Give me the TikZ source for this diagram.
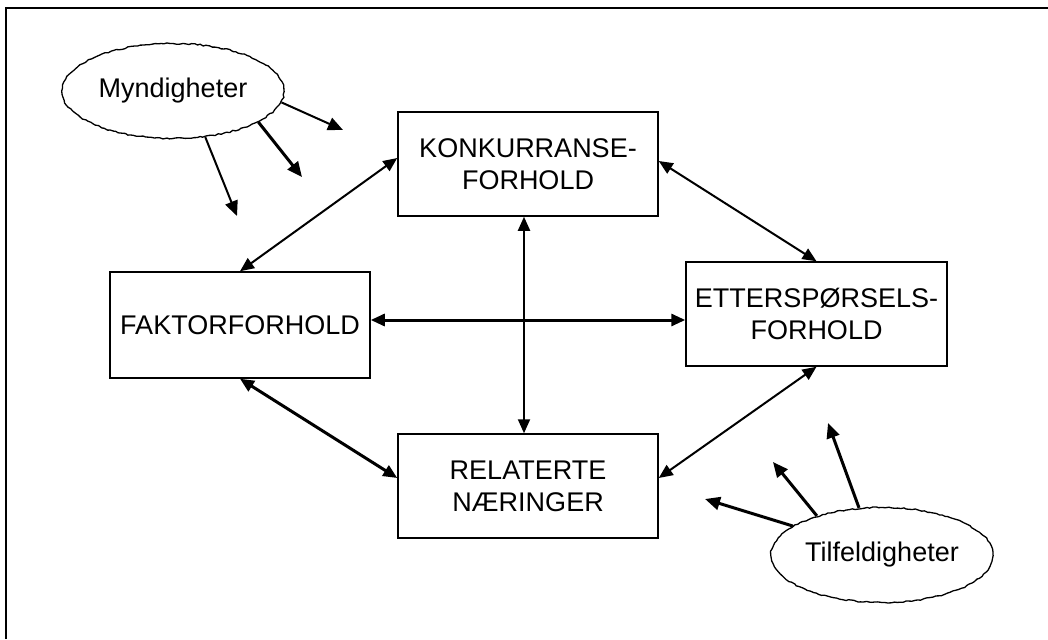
\documentclass[tikz,border=0pt]{standalone}
\usepackage{fontspec}
\setmainfont{Liberation Sans}
\usetikzlibrary{arrows.meta,shapes.geometric,decorations.pathmorphing}
\begin{document}
\begin{tikzpicture}[x=1pt,y=-1pt,
  box/.style={draw,line width=1.5pt,rectangle,inner sep=0pt,align=center,
    font=\fontsize{27}{32}\selectfont},
  cloud/.style={draw,line width=1.3pt,ellipse,inner sep=0pt,
    minimum width=222pt,minimum height=95pt,
    font=\fontsize{27}{32}\selectfont,
    decorate,decoration={random steps,segment length=3pt,amplitude=0.7pt}},
  link/.style={line width=2pt,{Triangle[length=14pt,width=12pt]}-{Triangle[length=14pt,width=12pt]}},
  linkthick/.style={line width=3pt,{Triangle[length=14pt,width=12pt]}-{Triangle[length=14pt,width=12pt]}},
  infl/.style={line width=2pt,-{Triangle[length=15pt,width=13pt]}},
  inflthick/.style={line width=3pt,-{Triangle[length=15pt,width=13pt]}}]
\pgfmathsetseed{7}
\useasboundingbox (0,0) rectangle (1048,639);
\draw[line width=1.5pt] (6,639) -- (6,8) -- (1048,8);

\node[box,minimum width=260pt,minimum height=104pt] (konk) at (528,164) {KONKURRANSE-\\FORHOLD};
\node[box,minimum width=260pt,minimum height=106pt] (fakt) at (240,325) {FAKTORFORHOLD};
\node[box,minimum width=261pt,minimum height=104pt] (ett) at (816.5,314) {ETTERSPØRSELS-\\FORHOLD};
\node[box,minimum width=260pt,minimum height=104pt] (rel) at (528,486) {RELATERTE\\NÆRINGER};

\draw[link] ([yshift=6pt]konk.west) -- (fakt.north);
\draw[link] ([yshift=3pt]konk.east) -- (ett.north);
\draw[linkthick] (fakt.south) -- ([yshift=8pt]rel.west);
\draw[link] (ett.south) -- ([yshift=8pt]rel.east);
\draw[link] ([xshift=-4pt]konk.south) -- ([xshift=-4pt]rel.north);
\draw[linkthick] ([yshift=5pt]fakt.east) -- ([yshift=-6pt]ett.west);

\node[cloud] (myn) at (173,91) {Myndigheter};
\node[cloud] (tilf) at (882,555) {Tilfeldigheter};

\coordinate (m1) at (343,130);
\coordinate (m2) at (302,177);
\coordinate (m3) at (237,216);
\coordinate (t1) at (705,499);
\coordinate (t2) at (773,462);
\coordinate (t3) at (828,423);

\draw[infl] (myn.-6) -- (m1);
\draw[inflthick] (myn.-20) -- (m2);
\draw[infl] (myn.-55) -- (m3);
\draw[inflthick] (tilf.162) -- (t1);
\draw[inflthick] (tilf.149) -- (t2);
\draw[inflthick] (tilf.116) -- (t3);
\end{tikzpicture}
\end{document}
